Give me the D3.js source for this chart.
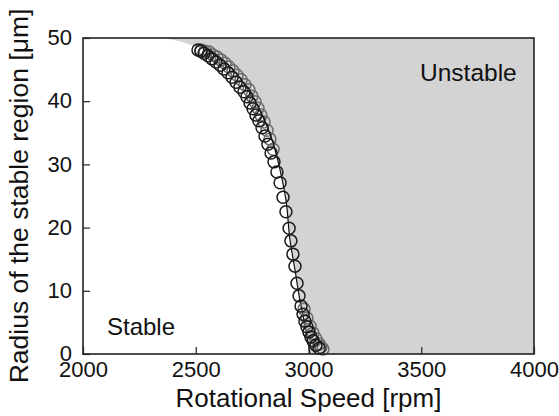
<!DOCTYPE html>
<html><head><meta charset="utf-8">
<script src="https://cdn.jsdelivr.net/npm/d3@7"></script>
<style>body{margin:0;background:#fff}svg{display:block;font-family:"Liberation Sans",Arial,Helvetica,sans-serif}</style>
</head><body>
<svg id="c" width="559" height="416"></svg>
<script>
// Data (rotational speed [rpm], radius [µm])
const blackRpm = [2510,2523,2537,2554,2572,2590,2608,2625,2643,2661,2679,2696,2714,2727,2741,2754,2767,2780,2794,2807,2820,2834,2847,2860,2874,2887,2900,2914,2922,2931,2940,2949,2958,2967,2976,2984,2993,3002,3011,3020,3033,3047];
const blackRad = [48.1,47.9,47.6,47.2,46.7,46.2,45.7,45.1,44.5,43.8,43.0,42.2,41.5,40.7,39.7,38.8,37.8,36.9,35.8,34.5,33.2,31.8,30.4,28.8,27.1,24.8,22.5,19.9,17.9,15.8,13.9,11.2,9.2,7.6,6.3,5.2,4.3,3.5,2.7,2.1,1.4,0.9];
const greyRpm = [2523,2541,2559,2576,2594,2612,2630,2647,2665,2683,2701,2718,2736,2749,2763,2776,2789,2803,2816,2829,2843,2980,2993,3007,3020,3033,3047,3055,3064];
const greyRad = [48.1,47.9,47.8,47.3,47.0,46.5,46.0,45.4,44.8,44.1,43.4,42.6,41.8,40.8,39.9,38.9,37.8,36.7,35.4,34.0,32.4,7.1,5.7,4.4,3.3,2.4,1.6,1.1,0.8];
// Stability boundary (edge of shaded unstable region)
const boundRpm = [2355,2430,2497,2541,2608,2674,2741,2794,2838,2874,2900,2918,2940,2962,2984,3007];
const boundRad = [50,49.5,48.7,48.1,46.8,44.6,41.3,37.8,33.9,29.1,24.4,18.0,13.3,8.5,4.6,0];
const xTicks = [2000,2500,3000,3500,4000];
const yTicks = [0,10,20,30,40,50];

const svg = d3.select("#c");
const L=83,R=534,T=38,B=354;
const x = d3.scaleLinear().domain([2000,4000]).range([L,R]);
const y = d3.scaleLinear().domain([0,50]).range([B,T]);

// shaded unstable region
const poly = boundRpm.map((r,i)=>[r,boundRad[i]]).concat([[4000,0],[4000,50]]);
svg.append("path")
  .attr("d", d3.line().x(d=>x(d[0])).y(d=>y(d[1]))(poly)+"Z")
  .attr("fill","#d3d3d3");

// boundary line
const bl = boundRpm.map((r,i)=>[r,boundRad[i]]).slice(3);
svg.append("path").attr("d", d3.line().x(d=>x(d[0])).y(d=>y(d[1])).curve(d3.curveMonotoneY)(bl))
  .attr("fill","none").attr("stroke","#111").attr("stroke-width",1.2);

// circles
svg.append("g").selectAll("circle").data(greyRpm.map((r,i)=>[r,greyRad[i]])).join("circle")
  .attr("cx",d=>x(d[0])).attr("cy",d=>y(d[1])).attr("r",6)
  .attr("fill","none").attr("stroke","#6a6a6a").attr("stroke-width",1.5);
svg.append("g").selectAll("circle").data(blackRpm.map((r,i)=>[r,blackRad[i]])).join("circle")
  .attr("cx",d=>x(d[0])).attr("cy",d=>y(d[1])).attr("r",6)
  .attr("fill","none").attr("stroke","#1a1a1a").attr("stroke-width",1.5);

// frame
svg.append("rect").attr("x",L).attr("y",T).attr("width",R-L).attr("height",B-T)
  .attr("fill","none").attr("stroke","#222").attr("stroke-width",1.6);

// axes (inward ticks)
const xa = svg.append("g").attr("transform",`translate(0,${B})`)
  .call(d3.axisBottom(x).tickValues(xTicks).tickSize(-7).tickPadding(6).tickFormat(d3.format("d")));
const ya = svg.append("g").attr("transform",`translate(${L},0)`)
  .call(d3.axisLeft(y).tickValues(yTicks).tickSize(-7).tickPadding(11).tickFormat(d3.format("d")));
[xa,ya].forEach(a=>{
  a.select(".domain").remove();
  a.selectAll(".tick line").attr("stroke","#222").attr("stroke-width",1.2);
  a.selectAll("text").attr("fill","#111").style("font-size","22px").style("font-family","'Liberation Sans',Arial,sans-serif");
});
xa.selectAll("text").attr("dy","0.78em");
ya.selectAll("text").attr("dy","0.3em");

// labels
svg.append("text").attr("x",107).attr("y",335).text("Stable").style("font-size","24px").attr("fill","#111");
svg.append("text").attr("x",420).attr("y",81).text("Unstable").style("font-size","24.5px").attr("fill","#111");
svg.append("text").attr("x",(L+R)/2).attr("y",407).attr("text-anchor","middle")
  .text("Rotational Speed [rpm]").style("font-size","26px").attr("fill","#111");
svg.append("text").attr("transform",`translate(28,${(T+B)/2}) rotate(-90)`).attr("text-anchor","middle")
  .text("Radius of the stable region [μm]").style("font-size","26.5px").attr("fill","#111");
</script>
</body></html>
